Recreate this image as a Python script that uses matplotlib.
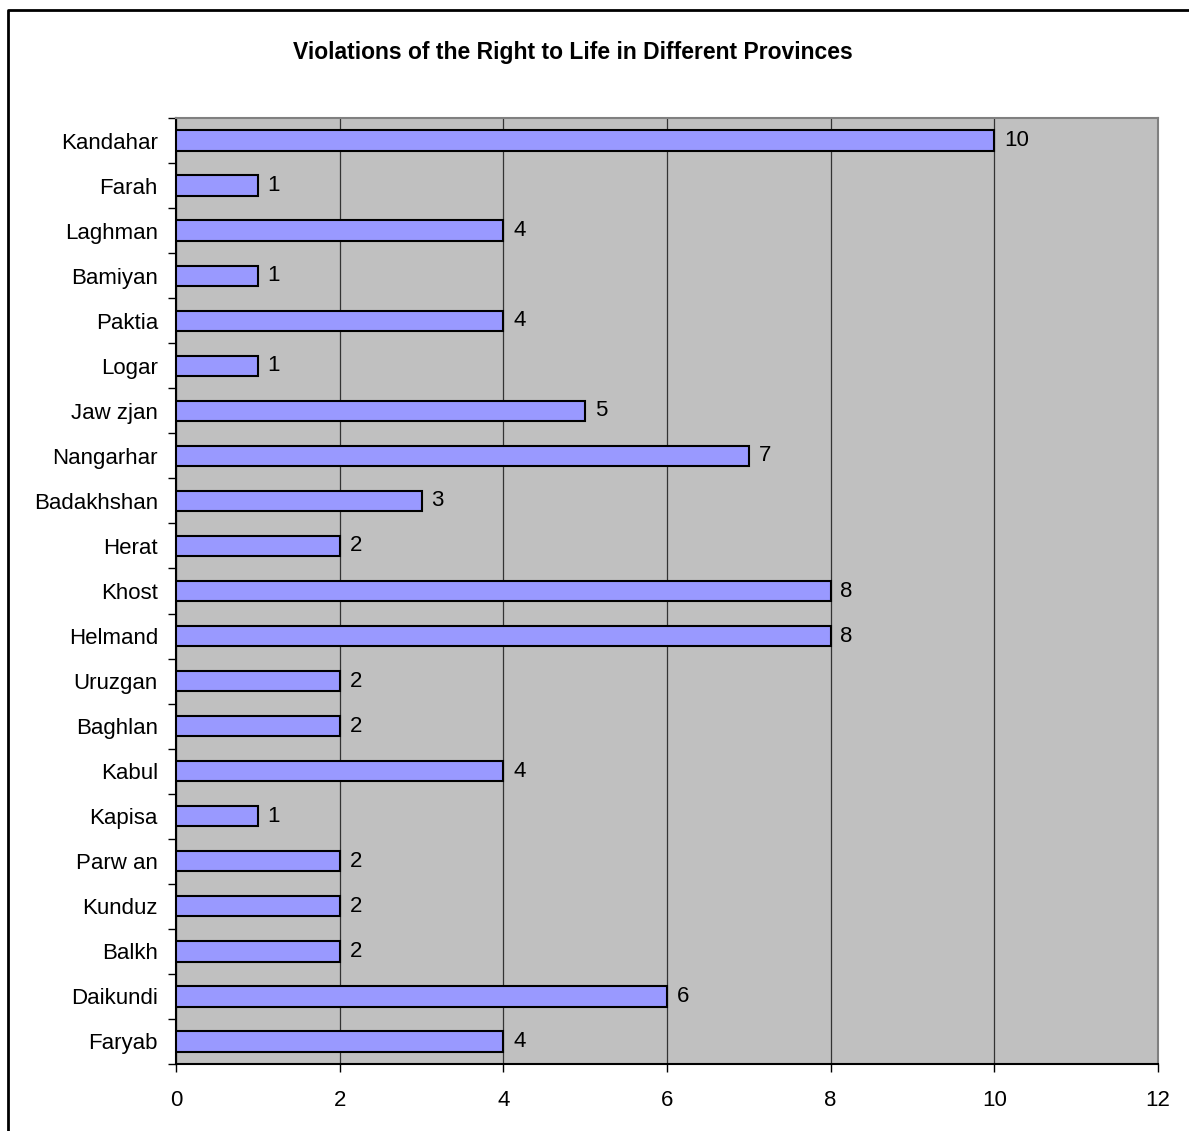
import matplotlib
matplotlib.use("Agg")
import matplotlib.pyplot as plt
from matplotlib.lines import Line2D
from matplotlib.ticker import MultipleLocator

# provinces listed bottom to top, as Excel draws them
provinces = ['Faryab', 'Daikundi', 'Balkh', 'Kunduz', 'Parw an', 'Kapisa', 'Kabul',
             'Baghlan', 'Uruzgan', 'Helmand', 'Khost', 'Herat', 'Badakhshan',
             'Nangarhar', 'Jaw zjan', 'Logar', 'Paktia', 'Bamiyan', 'Laghman',
             'Farah', 'Kandahar']
violations = [4, 6, 2, 2, 2, 1, 4, 2, 2, 8, 8, 2, 3, 7, 5, 1, 4, 1, 4, 1, 10]
x_ticks = [0, 2, 4, 6, 8, 10, 12]

plt.rcParams['font.family'] = ['Liberation Sans', 'DejaVu Sans']
FS = 16

fig = plt.figure(figsize=(11.89, 11.31), dpi=100)
# outer chart border (only top and left edges fall inside the picture)
bx, by = 8 / 1189, 1 - 10 / 1131
fig.lines.append(Line2D([bx, bx, 1.0], [0.0, by, by], transform=fig.transFigure,
                        color='black', linewidth=2))

ax = fig.add_axes([176 / 1189, 1 - 1064 / 1131, (1158 - 176) / 1189, (1064 - 118) / 1131])
ax.set_facecolor('#C0C0C0')

pos = range(len(provinces))
bars = ax.barh(pos, violations, height=0.45, color='#9999FF', edgecolor='black',
               linewidth=1.5, zorder=3)
for bar, v in zip(bars, violations):
    ax.text(bar.get_width() + 0.12, bar.get_y() + bar.get_height() / 2, str(v),
            va='center', ha='left', fontsize=FS)

ax.set_xlim(0, 12)
ax.set_ylim(-0.5, len(provinces) - 0.5)
ax.set_xticks(x_ticks)
ax.set_xticklabels([str(t) for t in x_ticks], fontsize=FS)
ax.set_yticks(list(pos))
ax.set_yticklabels(provinces, fontsize=FS)
ax.yaxis.set_minor_locator(MultipleLocator(1, offset=0.5))
ax.tick_params(axis='y', which='major', length=0, pad=13)
ax.tick_params(axis='y', which='minor', length=6, width=1, direction='out')
ax.tick_params(axis='x', length=6, width=1, direction='out', pad=13)
ax.xaxis.grid(True, color='#333333', linewidth=0.9, zorder=0)
ax.set_axisbelow(True)

for side in ['top', 'right']:
    ax.spines[side].set_color('#808080')
    ax.spines[side].set_linewidth(1.5)
for side in ['left', 'bottom']:
    ax.spines[side].set_color('black')
    ax.spines[side].set_linewidth(1.5)

fig.text(573 / 1189, 1 - 53 / 1131, 'Violations of the Right to Life in Different Provinces',
         ha='center', va='center', fontsize=16.5, fontweight='bold')

fig.savefig('out.png', dpi=100)
